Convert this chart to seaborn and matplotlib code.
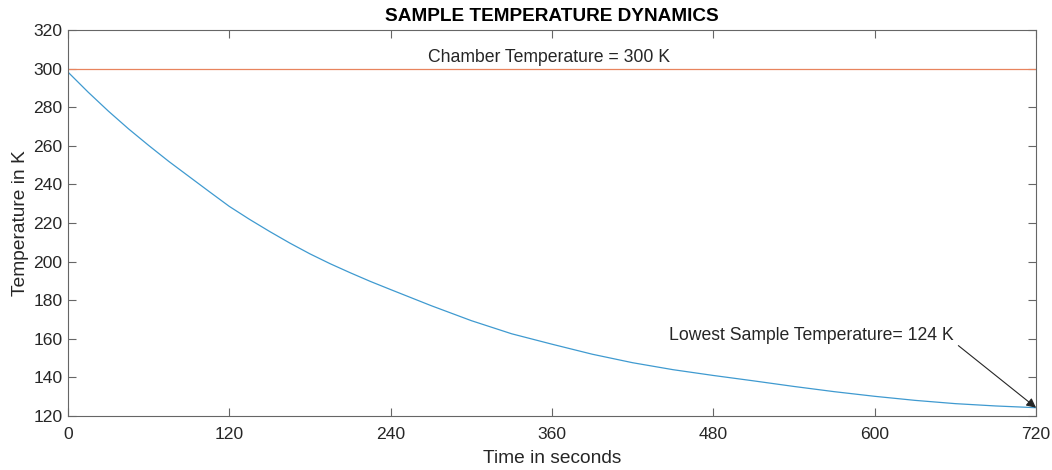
import matplotlib
matplotlib.use("Agg")
import matplotlib.pyplot as plt
import seaborn as sns
import pandas as pd

time_s = [0, 15, 30, 45, 60, 75, 90, 105, 120, 135, 150, 165, 180, 195, 210,
          225, 240, 270, 300, 330, 360, 390, 420, 450, 480, 510, 540, 570,
          600, 630, 660, 690, 720]
sample_temp = [298.2, 287.8, 278.0, 268.8, 260.2, 251.9, 244.1, 236.3, 228.6,
               221.9, 215.6, 209.6, 204.0, 198.9, 194.2, 189.7, 185.5, 177.2,
               169.4, 162.6, 157.2, 152.0, 147.6, 144.0, 141.0, 138.2, 135.3,
               132.6, 130.2, 128.1, 126.4, 125.2, 124.3]
chamber_temp = 300
xticks = [0, 120, 240, 360, 480, 600, 720]
yticks = [120, 140, 160, 180, 200, 220, 240, 260, 280, 300, 320]

sns.set_style("white")
plt.rcParams['font.family'] = ['Liberation Sans', 'DejaVu Sans']

df = pd.DataFrame({"t": time_s, "T": sample_temp})

fig = plt.figure(figsize=(10.52, 4.70), dpi=100)
ax = fig.add_axes([0.0646, 0.1149, 0.9202, 0.8213])

ax.axhline(chamber_temp, color="#E8845E", lw=0.9)
sns.lineplot(data=df, x="t", y="T", ax=ax, color="#3F9AD0", lw=0.9)

ax.set_xlim(0, 720)
ax.set_ylim(120, 320)
ax.set_xticks(xticks)
ax.set_yticks(yticks)
ax.tick_params(direction="in", length=6, width=0.8, colors="#666666",
               labelcolor="#262626", labelsize=12.6, top=True, right=True,
               left=True, bottom=True, pad=4)
ax.tick_params(axis="x", pad=8)
for s in ax.spines.values():
    s.set_color("#666666")
    s.set_linewidth(0.8)
    s.set_visible(True)

ax.set_xlabel("Time in seconds", fontsize=13.8, color="#262626", labelpad=5.5)
ax.set_ylabel("Temperature in K", fontsize=13.8, color="#262626", labelpad=3)
ax.set_title("SAMPLE TEMPERATURE DYNAMICS", fontsize=13.7, fontweight="bold",
             color="#000000", pad=6.5)

ax.text(357.9, 306, "Chamber Temperature = 300 K", ha="center", va="center",
        fontsize=12.7, color="#262626")
ax.annotate("Lowest Sample Temperature= 124 K", xy=(720, sample_temp[-1]),
            xytext=(659, 161.8), ha="right", va="center", fontsize=12.7,
            color="#262626",
            arrowprops=dict(arrowstyle="-|>", color="#262626", lw=0.8,
                            shrinkA=1, shrinkB=0, mutation_scale=14,
                            relpos=(1.0, 0.1)))

fig.savefig("out.png", dpi=100)
